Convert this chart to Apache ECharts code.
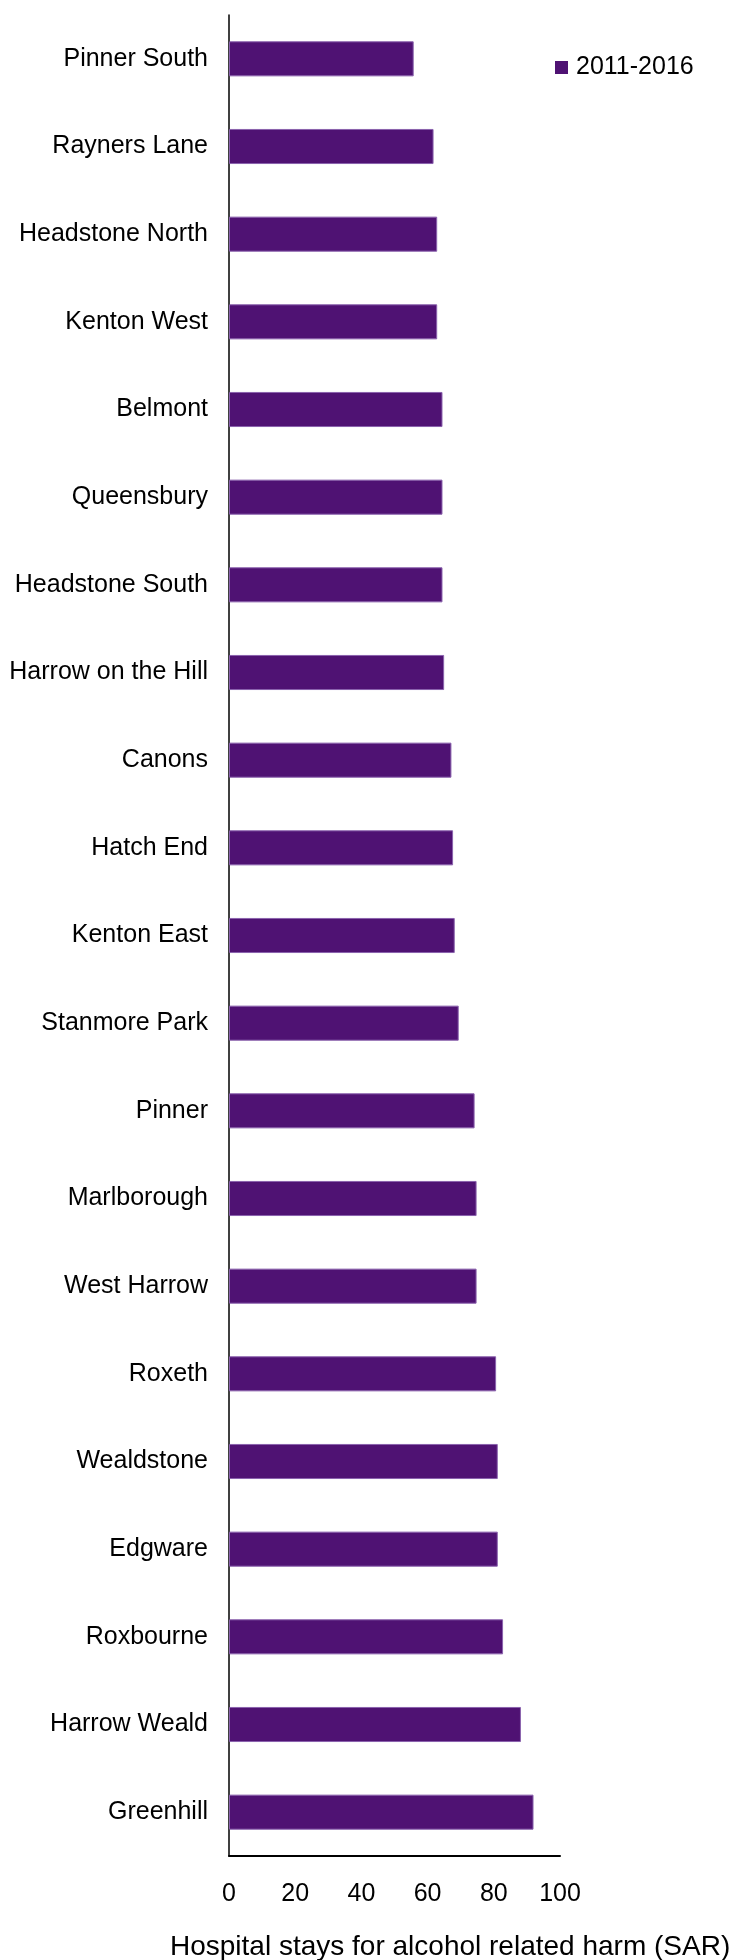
<!DOCTYPE html>
<html>
<head>
<meta charset="utf-8">
<title>Hospital stays for alcohol related harm by ward</title>
<script src="https://cdn.jsdelivr.net/npm/echarts@6/dist/echarts.min.js"></script>
<style>
  html, body { margin: 0; padding: 0; background: #ffffff; }
  #chart { width: 731px; height: 1960px; }
</style>
</head>
<body>
<div id="chart"></div>
<script>
// Wards, listed top to bottom
const wards = [
  'Pinner South', 'Rayners Lane', 'Headstone North', 'Kenton West', 'Belmont',
  'Queensbury', 'Headstone South', 'Harrow on the Hill', 'Canons', 'Hatch End',
  'Kenton East', 'Stanmore Park', 'Pinner', 'Marlborough', 'West Harrow',
  'Roxeth', 'Wealdstone', 'Edgware', 'Roxbourne', 'Harrow Weald', 'Greenhill'
];

// Standardised admission ratio, 2011-2016
const seriesName = '2011-2016';
const sarValues = [
  55.8, 61.8, 62.9, 62.9, 64.5,
  64.5, 64.5, 65.0, 67.2, 67.7,
  68.2, 69.4, 74.2, 74.8, 74.8,
  80.7, 81.2, 81.2, 82.8, 88.2, 92.0
];

const xAxisTitle = 'Hospital stays for alcohol related harm (SAR)';

const FONT = '"Liberation Sans", Arial, sans-serif';

const chart = echarts.init(document.getElementById('chart'), null, { renderer: 'canvas' });

chart.setOption({
  animation: false,
  backgroundColor: '#ffffff',
  textStyle: { fontFamily: FONT, color: '#000000' },
  title: {
    text: xAxisTitle,
    left: 170,
    top: 1933,
    padding: 0,
    textStyle: { fontFamily: FONT, fontSize: 28, fontWeight: 'normal', color: '#000000' }
  },
  legend: {
    data: [seriesName],
    left: 555,
    top: 55,
    padding: 0,
    itemWidth: 13,
    itemHeight: 13,
    icon: 'rect',
    itemStyle: { borderWidth: 0 },
    textStyle: { fontFamily: FONT, fontSize: 25, color: '#000000', padding: [0, 0, 0, 3] }
  },
  grid: {
    left: 229,
    right: 171,
    top: 15,
    bottom: 104,
    containLabel: false
  },
  xAxis: {
    type: 'value',
    min: 0,
    max: 100,
    interval: 20,
    axisLine: { show: true, lineStyle: { color: '#000000', width: 2 } },
    axisTick: { show: false },
    splitLine: { show: false },
    axisLabel: { fontFamily: FONT, fontSize: 25, color: '#000000', margin: 26 }
  },
  yAxis: {
    type: 'category',
    data: wards,
    inverse: true,
    axisLine: { show: true, lineStyle: { color: '#000000', width: 1.5 } },
    axisTick: { show: false },
    splitLine: { show: false },
    axisLabel: { fontFamily: FONT, fontSize: 25, color: '#000000', margin: 21 }
  },
  series: [{
    name: seriesName,
    type: 'bar',
    data: sarValues,
    barWidth: '40%',
    itemStyle: {
      color: '#4f1273',
      borderColor: '#8a62ad',
      borderWidth: 1
    }
  }]
});
</script>
</body>
</html>
